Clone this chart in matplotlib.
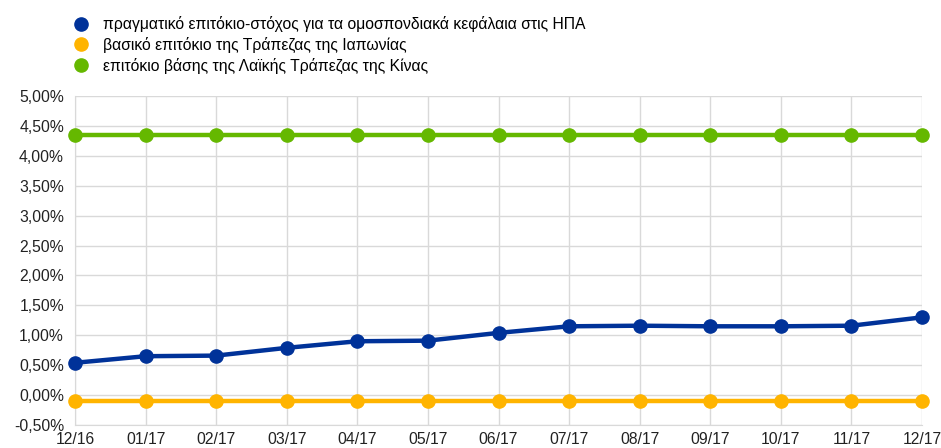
import matplotlib.pyplot as plt
from matplotlib.ticker import FuncFormatter

plt.rcParams['font.family'] = ['Liberation Sans', 'DejaVu Sans']

months = ["12/16", "01/17", "02/17", "03/17", "04/17", "05/17", "06/17",
          "07/17", "08/17", "09/17", "10/17", "11/17", "12/17"]
us_fed_funds = [0.54, 0.65, 0.66, 0.79, 0.90, 0.91, 1.04,
                1.15, 1.16, 1.15, 1.15, 1.16, 1.30]
boj_rate = [-0.10] * 13
pboc_rate = [4.35] * 13

labels = [
    "πραγματικό επιτόκιο-στόχος για τα ομοσπονδιακά κεφάλαια στις ΗΠΑ",
    "βασικό επιτόκιο της Τράπεζας της Ιαπωνίας",
    "επιτόκιο βάσης της Λαϊκής Τράπεζας της Κίνας",
]
colors = ["#003299", "#FFB400", "#65B800"]

fig = plt.figure(figsize=(9.41, 4.48), dpi=100)
ax = fig.add_axes([75 / 941, 23 / 448, 847 / 941, 329 / 448])

x = list(range(len(months)))
for series, lab, col in zip([us_fed_funds, boj_rate, pboc_rate], labels, colors):
    ax.plot(x, series, color=col, lw=3.2, marker="o", ms=9.5, label=lab,
            solid_capstyle="round", clip_on=False, zorder=3)

ax.set_xlim(0, 12)
ax.set_ylim(-0.5, 5.0)
ax.set_xticks(x)
ax.set_xticklabels(months)
ax.set_yticks([i * 0.5 - 0.5 for i in range(12)])
ax.yaxis.set_major_formatter(FuncFormatter(lambda v, p: f"{v:.2f}%".replace(".", ",")))
ax.grid(True, color="#d9d9d9", lw=1)
ax.set_axisbelow(True)
for s in ["top", "right"]:
    ax.spines[s].set_visible(False)
for s in ["left", "bottom"]:
    ax.spines[s].set_color("#d9d9d9")
ax.tick_params(length=0, labelsize=11.3, colors="#222222", pad=8)
ax.tick_params(axis="x", pad=5)

ax.legend(loc="upper left", bbox_to_anchor=(-7 / 847, 1 + 86 / 329), frameon=False,
          fontsize=11.3, handlelength=0.8, handletextpad=1.0, labelspacing=0.3,
          markerscale=1.0, borderaxespad=0)
leg = ax.get_legend()
for h in leg.legend_handles:
    h.set_linestyle("none")

fig.savefig("out.png", dpi=100)
